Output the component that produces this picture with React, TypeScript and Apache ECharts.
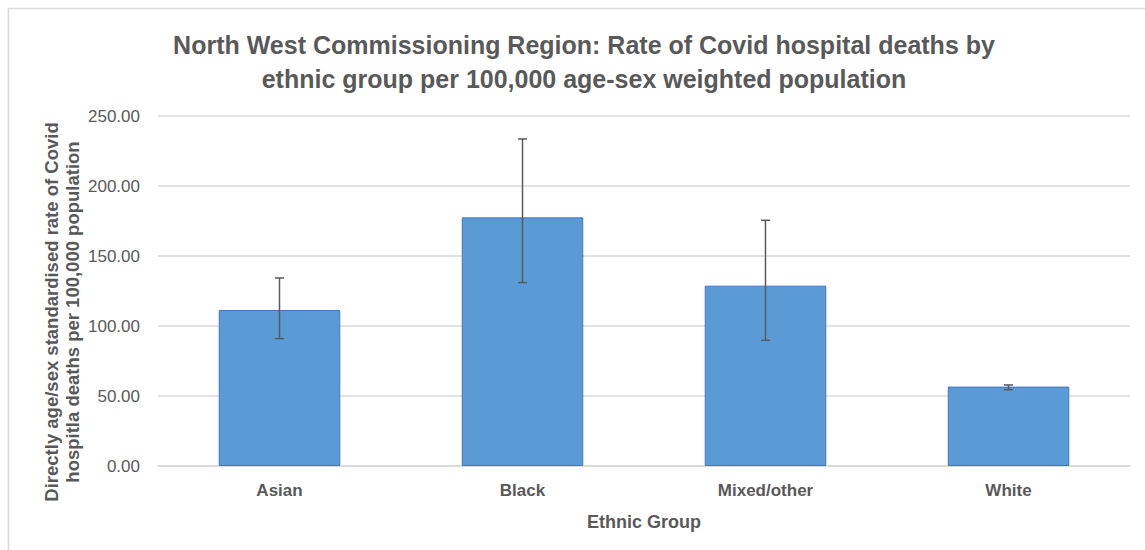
import React, { useEffect, useRef } from "react";
import * as echarts from "echarts";

const categories = ["Asian", "Black", "Mixed/other", "White"];
const rates = [111.4, 177.6, 128.8, 56.7];
const lower = [91.0, 131.0, 89.8, 54.5];
const upper = [134.3, 233.6, 175.5, 57.9];
const yTicks = { min: 0, max: 250, interval: 50 };

const titleText =
  "North West Commissioning Region: Rate of Covid hospital deaths by\nethnic group per 100,000 age-sex weighted population";
const yName =
  "Directly age/sex standardised rate of Covid\nhospitla deaths per 100,000 population";
const xName = "Ethnic Group";

const FONT = "'Liberation Sans', Arial, sans-serif";
const GRAY = "#595959";

export default function App() {
  const ref = useRef<HTMLDivElement>(null);
  useEffect(() => {
    document.body.style.margin = "0";
    const chart = echarts.init(ref.current!, null, { renderer: "svg" });
    chart.setOption({
      animation: false,
      backgroundColor: "#ffffff",
      textStyle: { fontFamily: FONT },
      graphic: [
        {
          type: "rect",
          shape: { x: 8.5, y: 8.5, width: 1300, height: 700 },
          style: { fill: "none", stroke: "#d9d9d9", lineWidth: 1.5 },
          silent: true,
        },
        {
          type: "text",
          x: 584,
          y: 62,
          style: {
            text: titleText,
            fontFamily: FONT,
            fontSize: 25,
            fontWeight: "bold",
            fill: GRAY,
            align: "center",
            verticalAlign: "middle",
            lineHeight: 34,
          },
        },
        {
          type: "text",
          x: 62,
          y: 312,
          rotation: Math.PI / 2,
          style: {
            text: yName,
            fontFamily: FONT,
            fontSize: 18.5,
            fontWeight: "bold",
            fill: GRAY,
            align: "center",
            verticalAlign: "middle",
            lineHeight: 21,
          },
        },
      ],
      grid: { left: 158, right: 15, top: 116, bottom: 84 },
      xAxis: {
        type: "category",
        data: categories,
        name: xName,
        nameLocation: "middle",
        nameGap: 47,
        nameTextStyle: { fontSize: 18, fontWeight: "bold", color: GRAY, fontFamily: FONT },
        axisLine: { lineStyle: { color: "#d9d9d9", width: 1.5 } },
        axisTick: { show: false },
        axisLabel: { fontSize: 17, fontWeight: "bold", color: GRAY, margin: 16, fontFamily: FONT },
      },
      yAxis: {
        type: "value",
        min: yTicks.min,
        max: yTicks.max,
        interval: yTicks.interval,
        axisLine: { show: false },
        axisTick: { show: false },
        axisLabel: {
          fontSize: 17,
          color: GRAY,
          margin: 18,
          fontFamily: FONT,
          formatter: (v: number) => v.toFixed(2),
        },
        splitLine: { lineStyle: { color: "#d9d9d9", width: 1.5 } },
      },
      series: [
        {
          type: "bar",
          data: rates,
          barWidth: "50%",
          itemStyle: { color: "#5b9bd5", borderColor: "#4472c4", borderWidth: 1 },
        },
        {
          type: "custom",
          data: categories.map((_, i) => [i, lower[i], upper[i]]),
          encode: { x: 0, y: [1, 2] },
          z: 10,
          renderItem: (params: any, api: any) => {
            const lo = api.coord([api.value(0), api.value(1)]);
            const hi = api.coord([api.value(0), api.value(2)]);
            const w = 4.5;
            const style = { stroke: "#5a5a5a", lineWidth: 1.5 };
            return {
              type: "group",
              children: [
                { type: "line", shape: { x1: lo[0], y1: lo[1], x2: hi[0], y2: hi[1] }, style },
                { type: "line", shape: { x1: hi[0] - w, y1: hi[1], x2: hi[0] + w, y2: hi[1] }, style },
                { type: "line", shape: { x1: lo[0] - w, y1: lo[1], x2: lo[0] + w, y2: lo[1] }, style },
              ],
            };
          },
        },
      ],
    });
    return () => chart.dispose();
  }, []);
  return <div ref={ref} style={{ width: 1145, height: 550 }} />;
}
